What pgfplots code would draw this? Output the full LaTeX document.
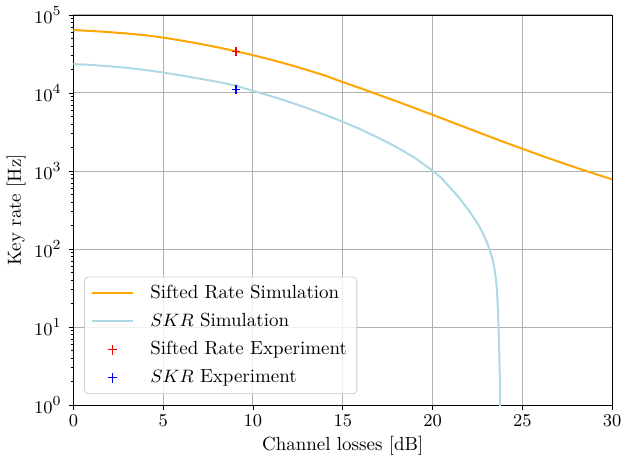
\documentclass[border=0pt]{standalone}
\usepackage{pgfplots}
\pgfplotsset{compat=1.18}

\definecolor{mplorange}{RGB}{255,165,0}
\definecolor{mpllightblue}{RGB}{173,216,230}
\definecolor{gridgray}{RGB}{176,176,176}

\pgfplotsset{
    lineleg/.style={legend image code/.code={\draw[##1] (0pt,0pt) -- (21pt,0pt); \path (27pt,0pt);}},
    redleg/.style={legend image code/.code={\draw[red, line width=0.6pt] (8pt,0pt) -- (13pt,0pt) (10.5pt,-2.5pt) -- (10.5pt,2.5pt); \path (0pt,0pt) (27pt,0pt);}},
    blueleg/.style={legend image code/.code={\draw[blue, line width=0.6pt] (8pt,0pt) -- (13pt,0pt) (10.5pt,-2.5pt) -- (10.5pt,2.5pt); \path (0pt,0pt) (27pt,0pt);}},
}

\begin{document}
\begin{tikzpicture}
\begin{axis}[
    scale only axis,
    width=270pt,
    height=195.5pt,
    xmin=0, xmax=30,
    ymin=1, ymax=1e5,
    ymode=log,
    xtick={0,5,10,15,20,25,30},
    ytick={1,10,100,1000,10000,100000},
    xlabel={Channel losses [dB]},
    ylabel={Key rate [Hz]},
    xticklabel style={yshift=1pt, inner xsep=0.8pt},
    xlabel style={yshift=2pt},
    ylabel style={yshift=-2.6pt},
    font=\fontsize{9.5}{11}\selectfont,
    grid=major,
    major grid style={line width=0.5pt, draw=gridgray},
    axis line style={line width=0.45pt},
    tick align=outside,
    xtick pos=bottom,
    ytick pos=left,
    major tick length=2.4pt,
    minor tick length=1.4pt,
    tick style={line width=0.45pt, black},
    legend cell align=left,
    legend style={
        at={(0.02,0.028)}, anchor=south west,
        draw=gray!40, rounded corners=2pt,
        fill=white, fill opacity=0.8, text opacity=1,
        inner xsep=3pt, inner ysep=2pt,
        row sep=2.0pt,
        font=\fontsize{9.5}{11}\selectfont,
    },
]
\addplot[color=mplorange, line width=1pt, lineleg] coordinates {
    (0,64120)(1,62370)(2,60260)(3,57810)(4,54950)(5,51290)(6,47100)(7,42850)
    (8,38640)(9,34510)(10,30550)(11,26730)(12,23120)(13,19770)(14,16750)
    (15,13800)(16,11480)(17,9480)(18,7820)(19,6410)(20,5250)(21,4290)
    (22,3500)(23,2860)(24,2340)(25,1930)(26,1590)(27,1321)(28,1102)
    (29,925)(30,782)
};
\addlegendentry{Sifted Rate Simulation}

\addplot[color=mpllightblue, line width=1pt, lineleg] coordinates {
    (0,23440)(1,22910)(2,22030)(3,20990)(4,19720)(5,18280)(6,16790)(7,15310)
    (8,13960)(9,12450)(10,10670)(11,9120)(12,7710)(13,6430)(14,5280)
    (15,4290)(16,3410)(17,2660)(18,2020)(19,1480)(20,1012)(20.5,813)
    (21,603)(21.5,447)(22,316)(22.5,214)(22.8,160)(23,126)(23.2,96)(23.35,72)
    (23.45,55)(23.53,41)(23.59,28)(23.64,16)(23.68,9)(23.71,5)(23.74,2.5)(23.77,0.63)
};
\addlegendentry{$SKR$ Simulation}

\addplot[only marks, mark=+, mark size=2.2pt, draw=red, mark options={draw=red, line width=0.6pt}, redleg] coordinates {
    (9.06,34400)
};
\addlegendentry{Sifted Rate Experiment}

\addplot[only marks, mark=+, mark size=2.2pt, draw=blue, mark options={draw=blue, line width=0.6pt}, blueleg] coordinates {
    (9.06,11200)
};
\addlegendentry{$SKR$ Experiment}
\end{axis}
\end{tikzpicture}
\end{document}
